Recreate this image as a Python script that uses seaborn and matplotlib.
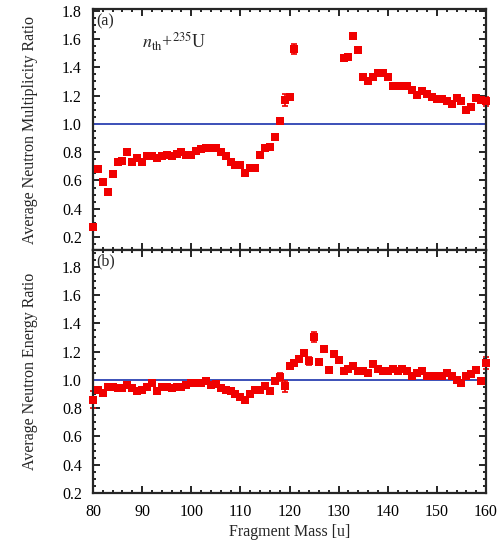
import numpy as np
import pandas as pd
import matplotlib
matplotlib.use('Agg')
import matplotlib.pyplot as plt
import seaborn as sns
from matplotlib.ticker import MultipleLocator

# ==========================================
# DATA
# ==========================================
# (a) multiplicity ratio, masses 80-121 and 131-160
mass_a_low = list(range(80, 122))
ratio_a_low = [0.27, 0.68, 0.59, 0.52, 0.645, 0.73, 0.74, 0.80, 0.73, 0.76,
               0.73, 0.77, 0.77, 0.76, 0.77, 0.78, 0.77, 0.79, 0.80, 0.78,
               0.78, 0.81, 0.82, 0.83, 0.83, 0.83, 0.80, 0.77, 0.73, 0.71,
               0.71, 0.65, 0.69, 0.69, 0.78, 0.83, 0.84, 0.91, 1.02, 1.17,
               1.19, 1.53]
mass_a_high = list(range(131, 161))
ratio_a_high = [1.465, 1.47, 1.62, 1.52, 1.335, 1.30, 1.335, 1.36, 1.36, 1.335,
                1.27, 1.27, 1.27, 1.27, 1.24, 1.205, 1.23, 1.21, 1.19, 1.175,
                1.175, 1.16, 1.14, 1.18, 1.16, 1.10, 1.12, 1.18, 1.17, 1.16]
# larger error bars where visible, otherwise hidden under the marker
err_a = {119: 0.04, 121: 0.035, 160: 0.03}

# (b) energy ratio, masses 80-160
mass_b = list(range(80, 161))
ratio_b = [0.86, 0.93, 0.905, 0.95, 0.95, 0.94, 0.94, 0.965, 0.94, 0.92,
           0.93, 0.95, 0.975, 0.92, 0.95, 0.95, 0.94, 0.95, 0.95, 0.965,
           0.975, 0.975, 0.975, 0.99, 0.965, 0.97, 0.94, 0.93, 0.92, 0.90,
           0.88, 0.86, 0.90, 0.93, 0.93, 0.96, 0.92, 0.99, 1.02, 0.955,
           1.10, 1.12, 1.145, 1.19, 1.135, 1.305, 1.13, 1.22, 1.07, 1.18,
           1.14, 1.065, 1.08, 1.095, 1.065, 1.065, 1.05, 1.115, 1.08, 1.065,
           1.065, 1.08, 1.065, 1.08, 1.065, 1.03, 1.05, 1.065, 1.025, 1.025,
           1.03, 1.03, 1.05, 1.03, 1.00, 0.975, 1.03, 1.04, 1.07, 0.99,
           1.12]
err_b = {80: 0.06, 118: 0.03, 119: 0.04, 124: 0.03, 125: 0.035, 160: 0.04}

df_a = pd.DataFrame({"Mass": mass_a_low + mass_a_high,
                     "Ratio": ratio_a_low + ratio_a_high})
df_a["Err"] = [err_a.get(m, 0.01) for m in df_a["Mass"]]
df_b = pd.DataFrame({"Mass": mass_b, "Ratio": ratio_b})
df_b["Err"] = [err_b.get(m, 0.01) for m in df_b["Mass"]]

# ==========================================
# STYLE
# ==========================================
sns.set_theme(style="ticks")
plt.rcParams['font.family'] = ['Liberation Serif', 'DejaVu Serif']
plt.rcParams['mathtext.fontset'] = 'stix'
plt.rcParams['axes.linewidth'] = 1.6
plt.rcParams['xtick.direction'] = 'in'
plt.rcParams['ytick.direction'] = 'in'

RED = "#f00000"
BLUE = "#3b4fb8"

fig = plt.figure(figsize=(5, 5.49), dpi=100)
ax_a = fig.add_axes([0.186, 0.545, 0.786, 0.438])
ax_b = fig.add_axes([0.186, 0.102, 0.786, 0.443])


def draw_panel(ax, df, ylim, ylabel, tag):
    ax.axhline(1.0, color=BLUE, lw=1.4, zorder=1)
    ax.errorbar(df["Mass"], df["Ratio"], yerr=df["Err"], fmt='none',
                ecolor=RED, elinewidth=1.2, capsize=2.5, capthick=1.2,
                zorder=2, clip_on=False)
    sns.scatterplot(data=df, x="Mass", y="Ratio", ax=ax, marker='s', s=38,
                    color=RED, edgecolor=RED, linewidth=0, zorder=3,
                    clip_on=False)
    ax.set_xlim(80, 160)
    ax.set_ylim(*ylim)
    ax.xaxis.set_major_locator(MultipleLocator(10))
    ax.xaxis.set_minor_locator(MultipleLocator(2))
    ax.yaxis.set_major_locator(MultipleLocator(0.2))
    ax.yaxis.set_minor_locator(MultipleLocator(0.05))
    ax.tick_params(which='both', top=True, right=True, width=1.2,
                   labelsize=11.5, colors='black')
    ax.tick_params(which='major', length=5, pad=8)
    ax.tick_params(which='minor', length=2.5)
    ax.yaxis.set_major_formatter(plt.FuncFormatter(lambda v, p: f"{v:.1f}"))
    ax.set_ylabel(ylabel, fontsize=11.5)
    ax.yaxis.set_label_coords(-0.14, 0.5)
    ax.text(0.008, 0.985, tag, transform=ax.transAxes, fontsize=11.5,
            ha='left', va='top')


draw_panel(ax_a, df_a, (0.11, 1.81), "Average Neutron Multiplicity Ratio", "(a)")
draw_panel(ax_b, df_b, (0.2, 1.92), "Average Neutron Energy Ratio", "(b)")

ax_a.tick_params(labelbottom=False)
ax_a.set_xlabel("")
ax_b.set_xlabel("Fragment Mass [u]", fontsize=11.5, labelpad=3)

ax_a.text(0.125, 0.865, r"$n_{\mathrm{th}}$+$^{235}$U", transform=ax_a.transAxes,
          fontsize=13, ha='left', va='center')

fig.savefig("out.png", dpi=100)
